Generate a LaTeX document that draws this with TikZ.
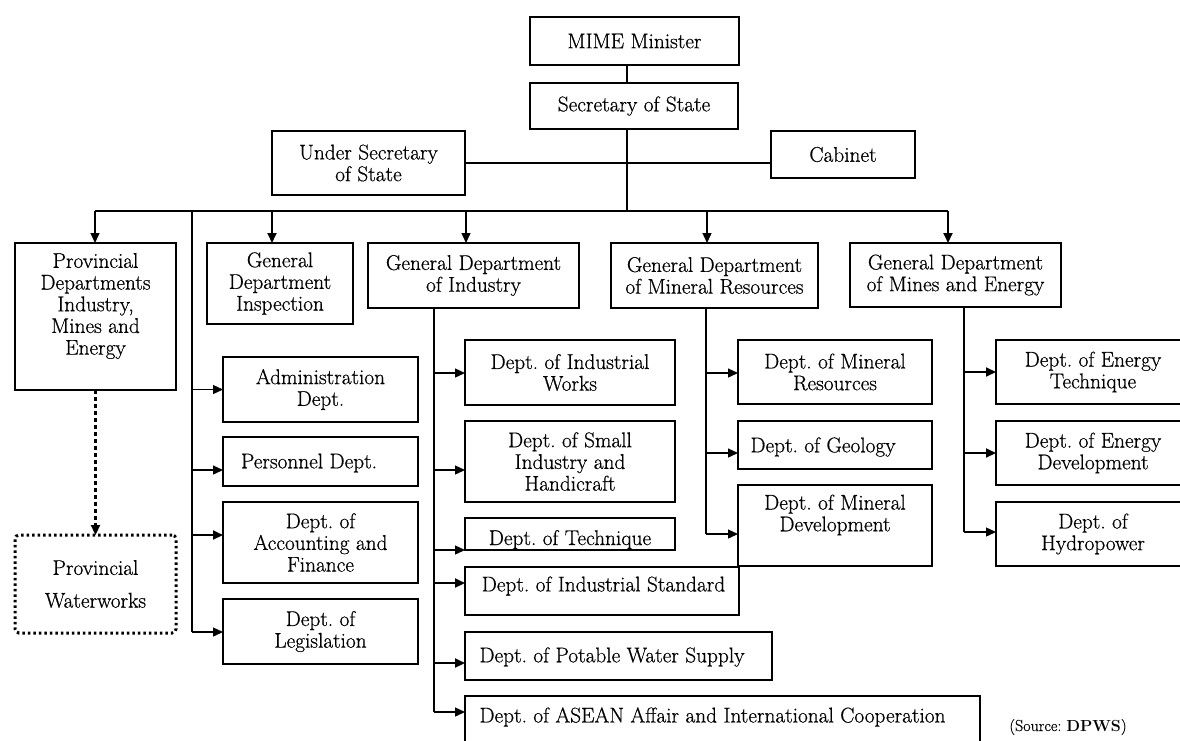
\documentclass[tikz,border=0pt]{standalone}
\usepackage{fontspec}
\setmainfont{Latin Modern Roman}[UprightFeatures={FakeBold=0.6}]
\frenchspacing
\usetikzlibrary{arrows.meta}
\begin{document}
\begin{tikzpicture}[x=1pt,y=-1pt,
  box/.style={draw, line width=1.3pt, inner sep=0pt, outer sep=0pt, align=center, font=\fontsize{21.3}{21.7}\selectfont},
  txt/.style={inner sep=0pt, align=center, font=\fontsize{21.3}{21.7}\selectfont},
  dotbox/.style={line width=3pt, dash pattern=on 2.5pt off 3pt, rounded corners=4pt},
  con/.style={line width=1.3pt},
  arr/.style={line width=1.3pt, -{Triangle[length=10pt,width=9pt]}},
]
\useasboundingbox (0,0) rectangle (1180,740);
\clip (0,0) rectangle (1180,740);
% top
\node[box,minimum width=209pt,minimum height=48pt] (mime) at (634.5,41) {MIME Minister};
\node[box,minimum width=208pt,minimum height=46pt] (sec) at (634,106) {Secretary of State};
\node[box,minimum width=193pt,minimum height=64pt] (under) at (368.5,163) {Under Secretary\\of State};
\node[box,minimum width=144pt,minimum height=47pt] (cab) at (843,154.5) {Cabinet};
% general departments
\node[box,minimum width=161pt,minimum height=147pt] (prov) at (95.5,316.5) {};
\node[txt] (provt) at (95.5,306) {Provincial\\Departments\\Industry,\\Mines and\\Energy};
\node[box,minimum width=146pt,minimum height=81pt] (gdi) at (280,283.5) {General\\Department\\Inspection};
\node[box,minimum width=211pt,minimum height=65pt] (gdind) at (473.5,275.5) {General Department\\of Industry};
\node[box,minimum width=207pt,minimum height=65pt] (gdmin) at (714.5,275.5) {General Department\\of Mineral Resources};
\node[box,minimum width=211pt,minimum height=64pt] (gdme) at (955.5,275) {General Department\\of Mines and Energy};
\node[box,dotbox,minimum width=161pt,minimum height=98pt] (pw) at (95.5,584) {Provincial\\[11pt]Waterworks};
% left column
\node[box,minimum width=195pt,minimum height=65pt] (admin) at (320.5,389.5) {Administration\\Dept.};
\node[box,minimum width=195pt,minimum height=49pt] (pers) at (320.5,461.5) {};
\node[txt] (perst) at (309,463) {Personnel Dept.};
\node[box,minimum width=195pt,minimum height=81pt] (acc) at (320.5,542.5) {Dept. of\\Accounting and\\Finance};
\node[box,minimum width=195pt,minimum height=65pt] (leg) at (320.5,631.5) {Dept. of\\Legislation};
% industry column
\node[box,minimum width=210pt,minimum height=65pt] (iw) at (570,372.5) {Dept. of Industrial\\Works};
\node[box,minimum width=210pt,minimum height=81pt] (si) at (570,461.5) {Dept. of Small\\Industry and\\Handicraft};
\node[box,minimum width=210pt,minimum height=32pt] (tech) at (570,534) {};
\node[txt,anchor=base] (techt) at (570,545) {Dept. of Technique};
\node[box,minimum width=274pt,minimum height=48pt] (indstd) at (602,591) {};
\node[txt] (indstdt) at (603.5,586) {Dept. of Industrial Standard};
\node[box,line width=2.8pt,minimum width=307pt,minimum height=48pt] (pot) at (618.5,656) {};
\node[txt] (pott) at (612,657) {Dept. of Potable Water Supply};
\node[box,minimum width=515pt,minimum height=48pt] (asean) at (722.5,720) {};
\node[txt] (aseant) at (712.5,717) {Dept. of ASEAN Affair and International Cooperation};
% mineral column
\node[box,minimum width=194pt,minimum height=64pt] (mr) at (835,372) {Dept. of Mineral\\Resources};
\node[box,minimum width=194pt,minimum height=48pt] (geo) at (835,445) {};
\node[txt] (geot) at (823,447) {Dept. of Geology};
\node[box,minimum width=194pt,minimum height=81pt] (md) at (835,525.5) {};
\node[txt] (mdt) at (835,515) {Dept. of Mineral\\Development};
% mines and energy column
\node[box,minimum width=194pt,minimum height=64pt] (et) at (1093,372) {Dept. of Energy\\Technique};
\node[box,minimum width=194pt,minimum height=64pt] (ed) at (1093,453) {Dept. of Energy\\Development};
\node[box,minimum width=194pt,minimum height=64pt] (hy) at (1093,534) {Dept. of\\Hydropower};
% source
\node[inner sep=0pt,font=\fontsize{16}{18}\selectfont] (src) at (1068,727) {(Source: \textbf{DPWS})};
% connectors
\coordinate (top) at (627,211);
\draw[con] (mime.south -| top) -- (sec.north -| top);
\draw[con,line width=2pt] (sec.south -| top) -- (top);
\draw[con] (under.east) -- (cab.west |- under.east);
\coordinate (bL) at (95,211);
\coordinate (b2) at (272,211);
\coordinate (b3) at (466,211);
\coordinate (b4) at (707,211);
\coordinate (bR) at (948,211);
\draw[con] (bL) -- (bR);
\draw[arr] (bL) -- (prov.north -| bL);
\draw[arr,line width=1.8pt] (b2) -- (gdi.north -| b2);
\draw[arr] (b3) -- (gdind.north -| b3);
\draw[arr] (b4) -- (gdmin.north -| b4);
\draw[arr,line width=1.8pt] (bR) -- (gdme.north -| bR);
\draw[arr,dash pattern=on 4pt off 3pt,line width=2.2pt] (prov.south) -- (pw.north);
% left branch
\coordinate (l0) at (192,211);
\coordinate (l1) at (192,389.5);
\coordinate (l2) at (192,470);
\coordinate (l3) at (192,535);
\coordinate (l4) at (192,632);
\draw[con] (l0) -- (l4);
\draw[arr] (l1) -- (admin.west |- l1);
\draw[arr] (l2) -- (pers.west |- l2);
\draw[arr,line width=2pt] (l3) -- (acc.west |- l3);
\draw[arr] (l4) -- (leg.west |- l4);
% industry branch
\coordinate (i1) at (434,373);
\coordinate (i2) at (434,470);
\coordinate (i3) at (434,550);
\coordinate (i4) at (434,583);
\coordinate (i5) at (434,663);
\coordinate (i6) at (434,712);
\draw[con,line width=1.8pt] (gdind.south -| i6) -- (i6);
\draw[arr] (i1) -- (iw.west |- i1);
\draw[arr] (i2) -- (si.west |- i2);
\draw[arr] (i3) -- (tech.west |- i3);
\draw[arr,line width=2pt] (i4) -- (indstd.west |- i4);
\draw[arr,line width=2pt] (i5) -- (pot.west |- i5);
\draw[arr] (i6) -- (asean.west |- i6);
% mineral branch
\coordinate (m1) at (706,373);
\coordinate (m2) at (706,453);
\coordinate (m3) at (706,534);
\draw[con] (gdmin.south -| m3) -- (m3);
\draw[arr] (m1) -- (mr.west |- m1);
\draw[arr] (m2) -- (geo.west |- m2);
\draw[arr] (m3) -- (md.west |- m3);
% energy branch
\coordinate (e1) at (964,372);
\coordinate (e2) at (964,453);
\coordinate (e3) at (964,532);
\draw[con] (gdme.south -| e3) -- (e3);
\draw[arr,line width=1.8pt] (e1) -- (et.west |- e1);
\draw[arr,line width=1.8pt] (e2) -- (ed.west |- e2);
\draw[arr] (e3) -- (hy.west |- e3);
\end{tikzpicture}
\end{document}
